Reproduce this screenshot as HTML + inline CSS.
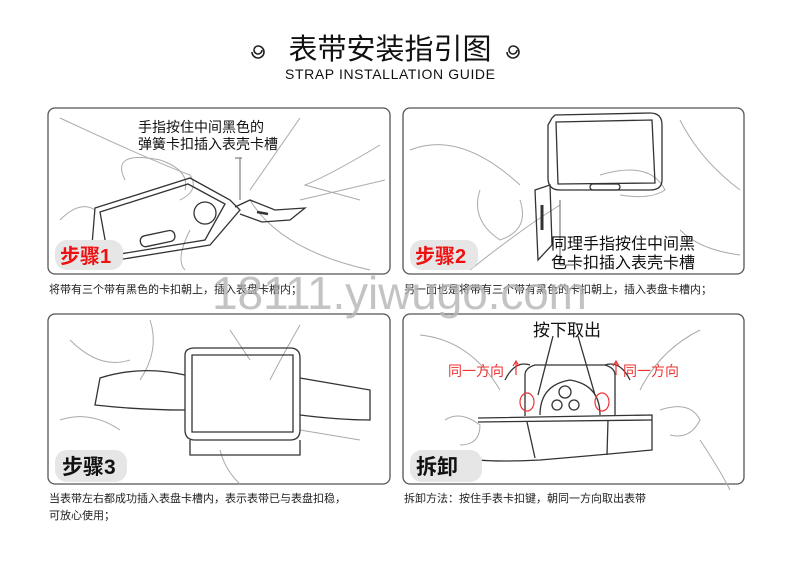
<!DOCTYPE html>
<html><head><meta charset="utf-8"><style>
body{margin:0;width:800px;height:574px;background:#fff;overflow:hidden;font-family:"Liberation Sans","Noto Sans CJK SC",sans-serif}
</style></head><body>
<svg width="800" height="574" viewBox="0 0 800 574" xmlns="http://www.w3.org/2000/svg" font-family="Liberation Sans, Noto Sans CJK SC, sans-serif">
<g fill="none" stroke="#222" stroke-width="1.6">
<path d="M262 50 a4 4 0 1 1 -4 -4 a6 6 0 1 1 -6 6"/>
<path d="M517 50 a4 4 0 1 1 -4 -4 a6 6 0 1 1 -6 6"/>
</g>
<text x="390" y="59" font-size="29" text-anchor="middle" fill="#111">表带安装指引图</text>
<text x="390" y="79" font-size="14" text-anchor="middle" fill="#111" textLength="210">STRAP INSTALLATION GUIDE</text>

<g fill="none" stroke="#555" stroke-width="1.3">
<rect x="48" y="108" width="342" height="166" rx="7"/>
<rect x="403" y="108" width="341" height="166" rx="7"/>
<rect x="48" y="314" width="342" height="170" rx="7"/>
<rect x="403" y="314" width="341" height="170" rx="7"/>
</g>

<g fill="none" stroke="#aaa" stroke-width="1">
<path d="M60 118 Q150 160 190 175 Q200 190 180 200"/>
<path d="M125 180 Q110 150 160 160 Q190 170 185 190"/>
<path d="M300 118 L250 190"/>
<path d="M380 145 Q330 175 305 185 L360 200"/>
<path d="M250 200 Q280 250 370 270"/>
<path d="M60 220 Q80 200 95 210"/>
<path d="M190 230 Q175 260 185 270"/>
<path d="M300 200 L385 180"/>
</g>
<g fill="none" stroke="#333" stroke-width="1.3">
<path d="M95 208 L190 178 L230 200 L240 210 L210 245 L105 262 Q92 255 92 245 Z"/>
<path d="M100 212 L188 184 L225 204 L205 240 L108 256 Z"/>
<circle cx="205" cy="213" r="11"/>
<rect x="140" y="233" width="35" height="11" rx="5" transform="rotate(-12 158 238)"/>
<path d="M235 207 L250 200 L275 210 L305 208 L290 220 L262 222 L240 214"/>
<path d="M257 212 L268 214" stroke-width="2.5"/>
<path d="M240 158 L240 200" stroke="#666" stroke-width="1"/>
<path d="M235 158 L242 158" stroke="#666" stroke-width="1"/>
</g>
<text x="138" y="132" font-size="14" fill="#111">手指按住中间黑色的</text>
<text x="138" y="149" font-size="14" fill="#111">弹簧卡扣插入表壳卡槽</text>
<rect x="55" y="240" width="68" height="30" rx="12" fill="#e6e6e6"/>
<text x="60" y="263" font-size="20" fill="#e11" font-weight="bold">步骤1</text>

<g fill="none" stroke="#aaa" stroke-width="1">
<path d="M410 150 Q460 130 520 185"/>
<path d="M480 190 Q470 220 500 240 Q530 230 520 200"/>
<path d="M600 175 Q650 160 665 190 Q650 200 620 195"/>
<path d="M680 120 Q700 160 740 190"/>
<path d="M470 270 Q520 230 560 205"/>
<path d="M680 230 Q700 250 740 255"/>
</g>
<g fill="none" stroke="#333" stroke-width="1.3">
<path d="M552 118 L555 115 L650 113 Q662 113 662 125 L662 180 Q662 190 650 190 L560 190 Q548 190 548 178 L548 125 Z"/>
<path d="M556 122 L652 120 L655 183 L558 184 Z"/>
<rect x="590" y="184" width="30" height="6" rx="3"/>
<path d="M535 190 L550 185 L552 245 L538 260 Z"/>
<path d="M542 205 L542 230" stroke-width="3"/>
<path d="M560 200 L560 265 L575 265" stroke="#666" stroke-width="1"/>
</g>
<text x="551" y="249" font-size="16" fill="#111">同理手指按住中间黑</text>
<text x="551" y="268" font-size="16" fill="#111">色卡扣插入表壳卡槽</text>
<rect x="410" y="240" width="68" height="30" rx="12" fill="#e6e6e6"/>
<text x="415" y="263" font-size="20" fill="#e11" font-weight="bold">步骤2</text>

<text x="49" y="293" font-size="11" fill="#222">将带有三个带有黑色的卡扣朝上，插入表盘卡槽内；</text>
<text x="404" y="293" font-size="11" fill="#222">另一面也是将带有三个带有黑色的卡扣朝上，插入表盘卡槽内；</text>
<text x="212" y="309" font-size="46" fill="#b4b4b4" fill-opacity="0.8" textLength="375">18111.yiwugo.com</text>

<g fill="none" stroke="#aaa" stroke-width="1">
<path d="M70 340 Q100 370 130 360"/>
<path d="M150 320 Q160 350 140 380"/>
<path d="M230 330 L250 360"/>
<path d="M300 325 Q280 360 270 380"/>
<path d="M60 420 Q90 410 120 430"/>
<path d="M220 450 Q225 470 240 484"/>
<path d="M300 430 L360 440"/>
</g>
<g fill="none" stroke="#333" stroke-width="1.3">
<path d="M185 355 Q185 348 195 348 L290 348 Q300 348 300 358 L300 430 Q300 440 290 440 L195 440 Q185 440 185 430 Z"/>
<path d="M192 355 L293 355 L293 432 L192 432 Z"/>
<path d="M185 375 Q140 365 100 378 L95 405 Q140 410 185 410"/>
<path d="M300 378 Q340 385 370 390 L370 420 Q340 420 300 415"/>
<path d="M190 440 L190 455 L300 455 L300 440"/>
</g>
<rect x="55" y="450" width="72" height="32" rx="12" fill="#e6e6e6"/>
<text x="62" y="474" font-size="21" fill="#111" font-weight="bold">步骤3</text>

<g fill="none" stroke="#aaa" stroke-width="1">
<path d="M420 335 Q470 340 500 390"/>
<path d="M445 420 Q460 410 480 425 Q480 445 460 445"/>
<path d="M700 330 Q660 350 640 390"/>
<path d="M660 410 Q690 400 700 420 Q690 440 670 435"/>
<path d="M700 440 Q720 470 730 490"/>
</g>
<g fill="none" stroke="#333" stroke-width="1.3">
<path d="M525 416 L525 375 Q525 368 535 365 L605 365 Q615 368 615 375 L615 416"/>
<path d="M540 415 Q540 385 570 380 Q600 385 600 415"/>
<circle cx="565" cy="392" r="6"/><circle cx="557" cy="405" r="5"/><circle cx="574" cy="405" r="5"/>
<path d="M505 380 Q515 360 530 365"/><path d="M630 380 Q620 360 605 365"/>
<path d="M478 418 L652 415 L652 450 Q600 455 540 460 Q500 462 478 460"/>
<path d="M478 422 L652 420"/>
<path d="M527 422 L535 458"/><path d="M608 420 L607 455"/>
<path d="M553 336 L538 395"/><path d="M578 336 L595 395"/>
</g>
<g fill="none" stroke="#e33" stroke-width="1.2">
<ellipse cx="527" cy="402" rx="7" ry="9"/><ellipse cx="602" cy="402" rx="7" ry="9"/>
<path d="M516 375 L516 362 M513 366 L516 361 L519 366"/>
<path d="M616 375 L616 362 M613 366 L616 361 L619 366"/>
</g>
<text x="567" y="336" font-size="17" text-anchor="middle" fill="#111">按下取出</text>
<text x="448" y="376" font-size="14" fill="#e33">同一方向</text>
<text x="623" y="376" font-size="14" fill="#e33">同一方向</text>
<rect x="410" y="450" width="72" height="32" rx="12" fill="#e6e6e6"/>
<text x="416" y="474" font-size="21" fill="#111" font-weight="bold">拆卸</text>

<text x="49" y="502" font-size="11" fill="#222">当表带左右都成功插入表盘卡槽内，表示表带已与表盘扣稳，</text>
<text x="49" y="519" font-size="11" fill="#222">可放心使用；</text>
<text x="404" y="502" font-size="11" fill="#222">拆卸方法：按住手表卡扣键，朝同一方向取出表带</text>
</svg>
</body></html>
